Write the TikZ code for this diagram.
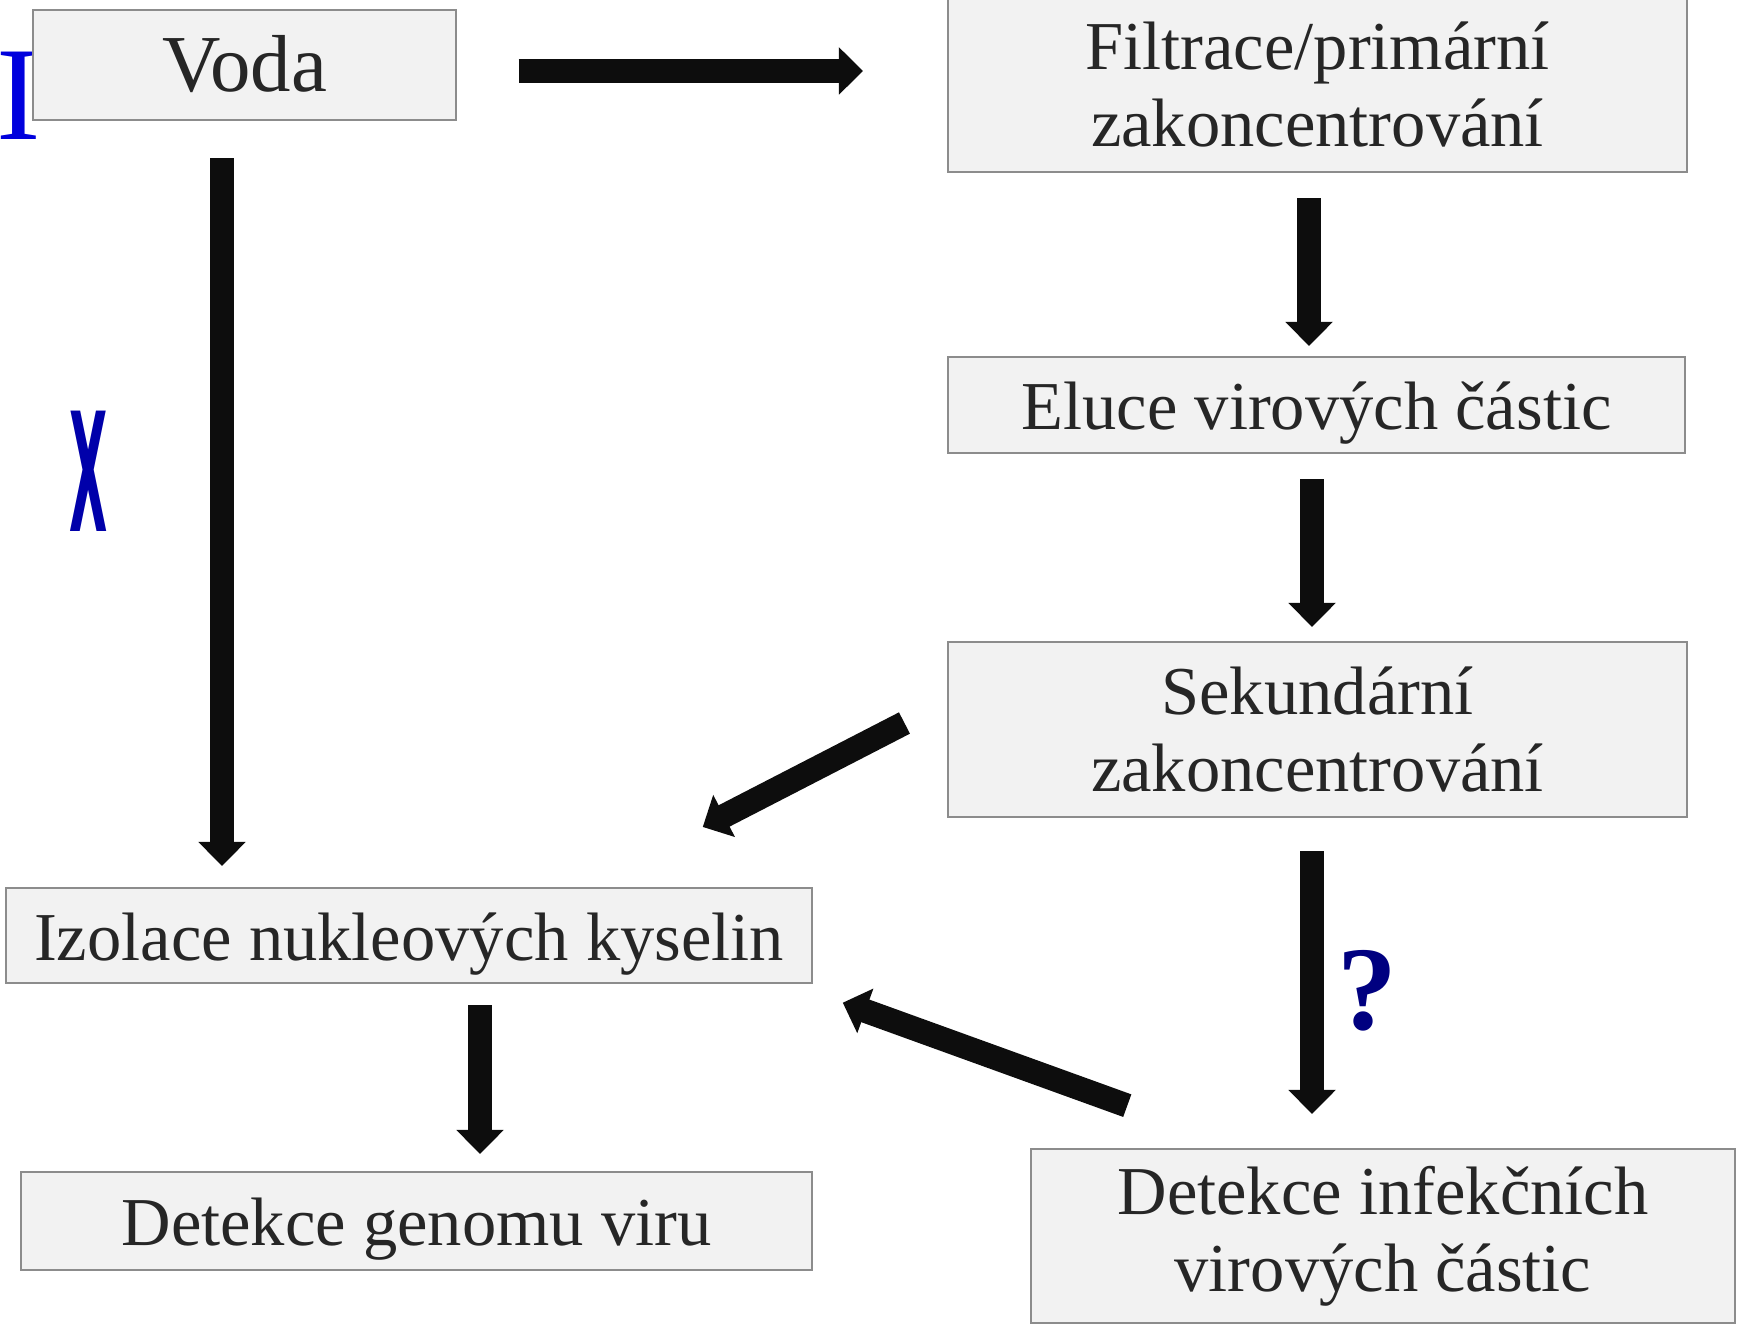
\documentclass[tikz,border=0pt]{standalone}
\usepackage{fontspec}
\setmainfont{Liberation Serif}
\newfontfamily\xfont{DejaVu Sans}
\usetikzlibrary{arrows.meta}
\definecolor{boxfill}{HTML}{F2F2F2}
\definecolor{boxline}{HTML}{8C8C8C}
\definecolor{txt}{HTML}{262626}
\definecolor{arr}{HTML}{0D0D0D}
\definecolor{markblue}{HTML}{0000DD}
\definecolor{crossblue}{HTML}{0000AA}
\definecolor{qnavy}{HTML}{000080}
\begin{document}
\begin{tikzpicture}[
	krok/.style={draw=boxline, line width=0.6pt, fill=boxfill, text=txt, align=center, inner sep=0pt, font=\fontsize{19.5}{22}\selectfont},
	jeden/.style={krok, text height=0.64cm, text depth=0.15cm},
	fat/.style={draw=arr, line width=0.24cm, -{Triangle[length=0.24cm,width=0.46cm]}},
	]
	\useasboundingbox (0,0) rectangle (17.42,-13.26);
	% marks on the left
	\node[text=markblue, font=\fontsize{38}{40}\selectfont, inner sep=0pt, anchor=base] (mark) at (0.19,-1.40) {I};
	\node[text=crossblue, font=\xfont\bfseries\fontsize{47}{50}\selectfont, inner sep=0pt, xscale=0.30, transform shape] (cross) at (0.89,-4.715) {X};
	% boxes
	\node[krok, minimum width=4.23cm, minimum height=1.10cm, text height=0.72cm, text depth=0.18cm, font=\fontsize{23}{25}\selectfont] (voda) at (2.445,-0.65) {Voda};
	\node[krok, minimum width=7.39cm, minimum height=1.75cm] (filtrace) at (13.175,-0.845) {Filtrace/primární\\zakoncentrování};
	\node[jeden, minimum width=7.37cm, minimum height=0.96cm] (eluce) at (13.165,-4.05) {Eluce virových částic};
	\node[krok, minimum width=7.39cm, minimum height=1.75cm] (sekund) at (13.175,-7.295) {Sekundární\\zakoncentrování};
	\node[jeden, minimum width=8.06cm, minimum height=0.95cm] (izolace) at (4.09,-9.355) {Izolace nukleových kyselin};
	\node[jeden, minimum width=7.91cm, minimum height=0.98cm] (genom) at (4.165,-12.21) {Detekce genomu viru};
	\node[krok, minimum width=7.04cm, minimum height=1.74cm] (infekc) at (13.83,-12.36) {Detekce infekčních\\virových částic};
	\node[text=qnavy, font=\bfseries\fontsize{34}{36}\selectfont, inner sep=0pt, anchor=base] (otaz) at (13.67,-10.29) {?};
	% arrows
	\draw[fat, shorten <=0.615cm, shorten >=0.84cm] ([yshift=-0.06cm]voda.east) -- ([yshift=-0.06cm]voda.east -| filtrace.west);
	\draw[fat, shorten <=0.37cm, shorten >=0.21cm] ([xshift=-0.225cm]voda.south) -- ([xshift=-0.225cm]voda.south |- izolace.north);
	\draw[fat, shorten <=0.25cm, shorten >=0.10cm] ([xshift=-0.085cm]filtrace.south) -- ([xshift=-0.085cm]filtrace.south |- eluce.north);
	\draw[fat, shorten <=0.25cm, shorten >=0.14cm] ([xshift=-0.045cm]eluce.south) -- ([xshift=-0.045cm]eluce.south |- sekund.north);
	\draw[fat, shorten <=0.33cm, shorten >=0.34cm] ([xshift=-0.055cm]sekund.south) -- ([xshift=-0.055cm]sekund.south |- infekc.north);
	\draw[fat, shorten <=0.21cm, shorten >=0.17cm] ([xshift=0.71cm]izolace.south) -- ([xshift=0.71cm]izolace.south |- genom.north);
	\draw[fat] ([shift={(-0.425,0.065)}]sekund.west) -- ([shift={(-1.103,0.60)}]izolace.north east);
	\draw[fat] ([shift={(0.973,0.423)}]infekc.north west) -- ([shift={(0.297,-0.672)}]izolace.east);
\end{tikzpicture}
\end{document}
